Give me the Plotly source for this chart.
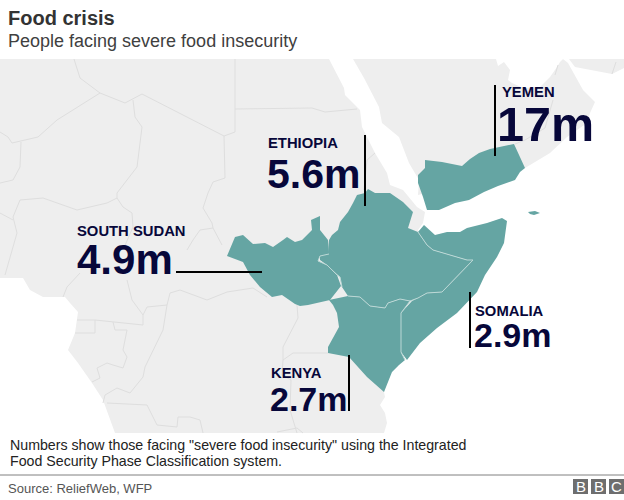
import plotly.graph_objects as go

# map outlines (x, y in the picture's own grid)
africa = [(0,59),(329,59),(344,88),(345,95),(360,110),(362,127),(375,153),(387,173),(390,185),(403,190),(417,207),(425,212),
    (423,223),(418,230),(420,240),(420,300),(395,355),(384,392),(385,397),(380,405),(385,413),(387,423),(384,433),
    (115,433),(103,400),(92,383),(78,363),(68,350),(75,333),(78,312),(70,303),(65,297),(43,297),(30,290),(23,278),(0,278)]
arabia = [(353,59),(364,78),(379,107),(382,123),(399,137),(409,163),(419,180),(418,195),(440,190),(525,168),(550,153),(567,137),
    (587,123),(590,113),(595,102),(583,90),(568,63),(563,59),(560,62),(557,67),(550,77),(540,87),(523,88),(512,83),
    (508,80),(510,70),(504,62),(498,66),(496,59)]
iran = [(569,59),(575,67),(612,74),(624,68),(624,59)]

yemen = [(425,160),(442,162),(462,166),(470,159),(479,153),(490,149),(514,144),(525,168),(520,172),(515,180),(498,186),(484,192),
    (469,200),(455,203),(439,210),(427,210),(423,197),(418,183),(418,175),(425,168)]
socotra = [(528,212),(535,211),(540,213),(534,215),(530,214)]
south_sudan = [(227,256),(235,237),(243,235),(253,244),(265,243),(273,247),(283,240),(287,237),(295,242),(302,240),(312,230),
    (311,220),(320,216),(320,230),(328,240),(329,254),(320,256),(318,261),(327,265),(337,275),(341,286),(330,300),(308,305),
    (300,306),(295,304),(282,295),(272,297),(260,287),(250,275),(243,262)]
ethiopia = [(368,189),(375,193),(390,193),(403,202),(413,212),(408,228),(418,232),(427,245),(433,250),(467,260),(473,260),
    (442,292),(427,293),(418,298),(410,301),(400,299),(388,303),(385,308),(370,306),(360,297),(348,296),(342,287),(340,277),
    (327,265),(320,260),(320,255),(328,254),(329,240),(332,235),(338,230),(340,222),(348,212),(353,203),(357,195),(365,193)]
somalia = [(424,225),(435,235),(447,232),(460,232),(467,228),(487,223),(502,218),(507,221),(504,243),(497,257),(485,275),
    (477,292),(457,313),(437,328),(420,343),(407,360),(401,352),(401,313),(412,301),(418,298),(427,293),(442,292),(473,260),
    (467,260),(433,250),(427,245),(418,232)]
kenya = [(329,300),(348,296),(360,297),(370,306),(385,308),(388,303),(400,299),(410,301),(401,313),(401,352),(405,360),(399,365),
    (392,372),(384,392),(367,377),(349,357),(328,353),(328,347),(339,327),(337,313),(333,305)]
famine_areas = [yemen, socotra, south_sudan, ethiopia, somalia, kenya]

grey_borders = [
    [(74,59),(80,78),(100,93),(125,103),(142,94),(224,136),(235,132),(235,59)],
    [(235,109),(312,108),(325,112),(357,109)],
    [(100,93),(57,120),(38,137),(12,143),(8,137),(0,132)],
    [(21,142),(20,167),(13,180),(0,183)],
    [(133,100),(135,117),(142,127),(137,167),(117,193),(117,198)],
    [(224,136),(225,178),(213,182),(208,193),(203,208),(212,223),(213,228),(222,245)],
    [(213,228),(200,230),(193,240),(187,250)],
    [(117,198),(107,203),(77,210),(43,198),(20,200),(13,217),(17,233),(12,250),(5,275)],
    [(0,213),(13,220)],
    [(117,198),(123,207),(132,213),(133,227),(123,250)],
    [(127,280),(132,300),(143,315),(143,325)],
    [(80,273),(67,287),(63,297)],
    [(143,315),(147,307),(167,305),(170,293),(180,290),(207,300),(227,292),(253,288),(267,297)],
    [(167,305),(163,330),(145,367),(143,377),(130,393),(117,388),(105,395),(103,403)],
    [(77,320),(95,320),(95,333),(75,333)],
    [(95,320),(143,325)],
    [(113,322),(115,330),(127,330),(123,350),(127,357),(123,368),(113,365),(107,363),(97,368),(100,378),(92,382)],
    [(107,403),(147,405),(157,425),(177,427),(178,417),(190,417),(200,420),(203,433)],
    [(297,305),(298,318),(283,347),(283,360),(293,353),(328,353)],
    [(283,360),(282,375),(291,380),(290,410),(297,433)],
    [(277,432),(297,428),(303,433)],
    [(375,153),(367,160),(364,190)],
    [(515,144),(525,140),(545,128),(550,110),(553,100)],
    [(612,74),(616,62)],
    [(555,75),(558,65)],
]
teal_borders = [
    [(329,254),(320,256),(318,261),(327,265),(337,275),(340,277),(342,287)],
    [(348,296),(360,297),(370,306),(385,308),(388,303),(400,299),(410,301)],
    [(418,232),(427,245),(433,250),(467,260),(473,260),(442,292),(427,293),(418,298),(410,301),(401,313),(401,352),(405,360)],
]

countries = ["YEMEN", "ETHIOPIA", "SOUTH SUDAN", "SOMALIA", "KENYA"]
people_m = [17, 5.6, 4.9, 2.9, 2.7]

# label placement: name x, name y, number x, number y, number size
placement = [(501,92,496,124,48.5), (267,143,266,174,41), (76,231,76,259,42), (474,311,473,335,34), (270,373,269,399,34)]
leaders = [[(495,85),(495,156)], [(365,135),(365,206)], [(176,272),(262,272)], [(470,292),(470,348)], [(349,355),(349,411)]]

LAND = "#eeeeee"
TEAL = "#65a5a3"
NAVY = "#07073a"
FONT = "Liberation Sans"


def xy(points):
    return [p[0] for p in points], [p[1] for p in points]


fig = go.Figure()

for poly in [africa, arabia, iran]:
    x, y = xy(poly)
    fig.add_trace(go.Scatter(x=x, y=y, mode="lines", fill="toself", fillcolor=LAND, line=dict(width=0)))
for line in grey_borders:
    x, y = xy(line)
    fig.add_trace(go.Scatter(x=x, y=y, mode="lines", line=dict(color="#dedede", width=1)))
for poly in famine_areas:
    x, y = xy(poly)
    fig.add_trace(go.Scatter(x=x, y=y, mode="lines", fill="toself", fillcolor=TEAL, line=dict(width=0)))
for line in teal_borders:
    x, y = xy(line)
    fig.add_trace(go.Scatter(x=x, y=y, mode="lines", line=dict(color="#bcd8d6", width=1)))
for line in leaders:
    x, y = xy(line)
    fig.add_trace(go.Scatter(x=x, y=y, mode="lines", line=dict(color="#000000", width=2)))


def label(x, y, text, size, color, bold=False):
    if bold:
        text = "<b>" + text + "</b>"
    fig.add_annotation(x=x, y=y, text=text, showarrow=False, xanchor="left", yanchor="middle", borderpad=0,
        font=dict(family=FONT, size=size, color=color))


for name, value, (name_x, name_y, value_x, value_y, size) in zip(countries, people_m, placement):
    label(name_x, name_y, name, 14.8, NAVY, True)
    label(value_x, value_y, f"{value}m", size, NAVY, True)

label(7, 18, "Food crisis", 20, "#333333", True)
label(7, 41, "People facing severe food insecurity", 18, "#404040")
label(9, 445, 'Numbers show those facing "severe food insecurity" using the Integrated', 14.2, "#222222")
label(9, 461, "Food Security Phase Classification system.", 14.2, "#222222")
label(7, 488, "Source: ReliefWeb, WFP", 13, "#555555")

fig.add_shape(type="line", x0=0, x1=624, y0=475, y1=475, line=dict(color="#808080", width=1))
for left, letter in zip([573, 591, 609], "BBC"):
    fig.add_shape(type="rect", x0=left, x1=left+15, y0=479, y1=494, fillcolor="#6e6e6e", line=dict(width=0))
    fig.add_annotation(x=left+7.5, y=486.5, text=letter, showarrow=False, borderpad=0,
        font=dict(family=FONT, size=15, color="#ffffff"))

fig.update_xaxes(range=[0, 624], visible=False, fixedrange=True)
fig.update_yaxes(range=[500, 0], visible=False, fixedrange=True)
fig.update_layout(width=624, height=500, margin=dict(l=0, r=0, t=0, b=0), showlegend=False, hovermode=False,
    plot_bgcolor="#ffffff", paper_bgcolor="#ffffff")

fig.write_html("out.html", config=dict(displayModeBar=False), post_script="document.body.style.margin='0';")
